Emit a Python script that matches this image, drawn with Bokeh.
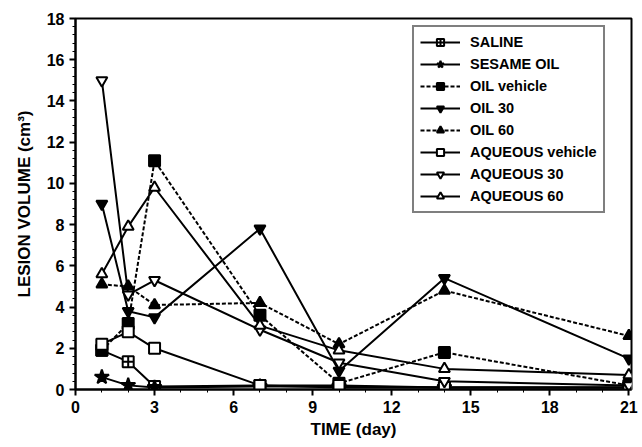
from bokeh.plotting import figure
from bokeh.embed import file_html
from bokeh.resources import INLINE
from bokeh.models import FixedTicker, Range1d, Legend, LegendItem

days = [1, 2, 3, 7, 10, 14, 21]
saline = [1.9, 1.35, 0.15, 0.2, 0.1, 0.1, 0.1]
sesame_oil = [0.6, 0.2, 0.1, 0.15, 0.15, 0.1, 0.1]
oil_vehicle = [1.9, 3.2, 11.1, 3.6, 0.3, 1.8, 0.2]
oil_30 = [9.0, 3.8, 3.5, 7.8, 0.9, 5.4, 1.5]
oil_60 = [5.1, 5.0, 4.1, 4.2, 2.2, 4.8, 2.6]
aqueous_vehicle = [2.2, 2.8, 2.0, 0.2, 0.2, 0.1, 0.1]
aqueous_30 = [15.0, 4.6, 5.3, 2.9, 1.3, 0.4, 0.2]
aqueous_60 = [5.6, 7.9, 9.8, 3.1, 1.9, 1.0, 0.7]

series = [
    ("SALINE", saline, "square_cross", "white", "solid"),
    ("SESAME OIL", sesame_oil, "star", "black", "solid"),
    ("OIL vehicle", oil_vehicle, "square", "black", "4 2"),
    ("OIL 30", oil_30, "inverted_triangle", "black", "solid"),
    ("OIL 60", oil_60, "triangle", "black", "4 2"),
    ("AQUEOUS vehicle", aqueous_vehicle, "square", "white", "solid"),
    ("AQUEOUS 30", aqueous_30, "inverted_triangle", "white", "solid"),
    ("AQUEOUS 60", aqueous_60, "triangle", "white", "solid"),
]

x_ticks = [0, 3, 6, 9, 12, 15, 18, 21]
y_ticks = [0, 2, 4, 6, 8, 10, 12, 14, 16, 18]

p = figure(width=640, height=441, output_backend="svg", toolbar_location=None,
           x_range=Range1d(0, 21.1), y_range=Range1d(0, 18),
           min_border_left=75, min_border_right=9, min_border_top=18, min_border_bottom=50)

p.xgrid.visible = False
p.ygrid.visible = False
p.outline_line_color = "black"
p.outline_line_width = 2

font = "Liberation Sans"
for ax in (p.xaxis[0], p.yaxis[0]):
    ax.axis_line_width = 2
    ax.axis_line_color = "black"
    ax.major_tick_line_width = 2
    ax.major_tick_line_color = "black"
    ax.minor_tick_line_width = 1
    ax.minor_tick_line_color = "black"
    ax.major_tick_out = 6
    ax.major_tick_in = 0
    ax.minor_tick_out = 3
    ax.minor_tick_in = 0
    ax.major_label_text_font = font
    ax.major_label_text_font_style = "bold"
    ax.major_label_text_font_size = "16px"
    ax.major_label_text_color = "black"
    ax.axis_label_text_font = font
    ax.axis_label_text_font_style = "bold"
    ax.axis_label_text_font_size = "17px"
    ax.axis_label_text_color = "black"

p.xaxis.ticker = FixedTicker(ticks=x_ticks, minor_ticks=list(range(0, 22)))
p.yaxis.ticker = FixedTicker(ticks=y_ticks, minor_ticks=[i * 0.4 for i in range(0, 46)])
p.xaxis.axis_label = "TIME (day)"
p.yaxis.axis_label = "LESION VOLUME (cm\u00b3)"
p.xaxis.axis_label_standoff = 4
p.yaxis.axis_label_standoff = 10

items = []
for name, vals, marker, fill, dash in series:
    r1 = p.line(days, vals, line_color="black", line_width=2, line_dash=dash)
    r2 = p.scatter(days, vals, marker=marker, size=15 if marker == "star" else 11,
                   fill_color=fill, line_color="black", line_width=2)
    items.append(LegendItem(label=name, renderers=[r1, r2]))

legend = Legend(items=items, location=(337, 176))
legend.label_text_font = font
legend.label_text_font_style = "bold"
legend.label_text_font_size = "14.5px"
legend.label_text_color = "black"
legend.label_height = 18
legend.glyph_height = 18
legend.glyph_width = 40
legend.spacing = 4
legend.padding = 6
legend.margin = 0
legend.border_line_color = "black"
legend.border_line_width = 2
legend.label_standoff = 10
p.add_layout(legend, "center")

open("out.html", "w").write(file_html(p, INLINE))
